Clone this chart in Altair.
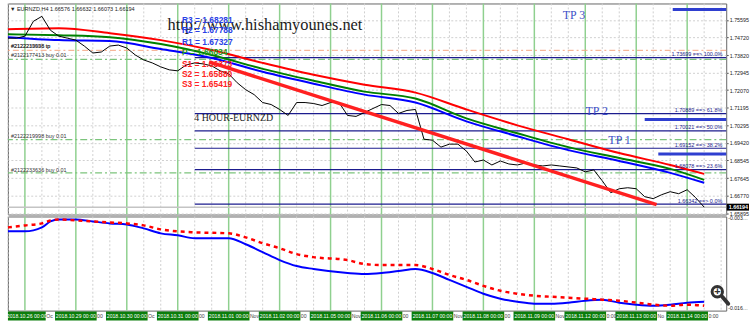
import altair as alt
import pandas as pd

# ---------------- data ----------------
close_bars = list(range(-2, 81))
close_prices = [
    1.74677, 1.74677, 1.74777, 1.75522, 1.75771, 1.75075, 1.74777, 1.74677, 1.74578, 1.74279,
    1.73931, 1.73981, 1.74279, 1.74329, 1.74180, 1.73832, 1.73583, 1.73434, 1.73235, 1.73086,
    1.73036, 1.73334, 1.73434, 1.73384, 1.73285, 1.73036, 1.72887, 1.72439, 1.72091, 1.71842,
    1.71445, 1.71345, 1.71097, 1.70798, 1.71445, 1.71445, 1.71395, 1.71295, 1.71445, 1.71445,
    1.70798, 1.70748, 1.70947, 1.71146, 1.71345, 1.71295, 1.70898, 1.71047, 1.71097, 1.69605,
    1.69555, 1.69207, 1.69356, 1.69356, 1.69008, 1.68461, 1.68560, 1.68312, 1.68511, 1.68361,
    1.68312, 1.68411, 1.68312, 1.68262, 1.68312, 1.68262, 1.68212, 1.68162, 1.67964, 1.68063,
    1.67516, 1.66919, 1.67118, 1.67168, 1.67118, 1.66720, 1.66621, 1.66820, 1.66969, 1.66869,
    1.67068, 1.66671, 1.66194,
]

ma_bars = [-2, 4, 10, 16, 22, 28, 34, 40, 46, 52, 58, 64, 70, 76, 80]
ma_red = [1.75125, 1.75174, 1.74926, 1.74578, 1.74080, 1.73434, 1.72837, 1.72340,
          1.71942, 1.71097, 1.70301, 1.69605, 1.68908, 1.68312, 1.67864]
ma_green = [1.74876, 1.74826, 1.74727, 1.74379, 1.73832, 1.73135, 1.72539, 1.71992,
            1.71644, 1.70649, 1.69903, 1.69207, 1.68660, 1.68113, 1.67566]
ma_blue = [1.74727, 1.74578, 1.74528, 1.74130, 1.73682, 1.72986, 1.72389, 1.71842,
           1.71445, 1.70500, 1.69754, 1.69058, 1.68511, 1.67914, 1.67416]

trend_bars = [21.7, 74.4]
trend_prices = [1.73484, 1.66322]

osc_blue_bars = [-2, 0, 2, 3, 4, 6, 8, 10, 12, 14, 16, 18, 20, 24, 26, 28, 30, 32, 34, 38,
                 40, 42, 44, 46, 48, 50, 52, 54, 56, 58, 60, 62, 64, 66, 68, 70, 72, 74, 76, 78, 80]
osc_blue = [-0.00568, -0.00568, -0.00510, -0.00423, -0.00394, -0.00394, -0.00423, -0.00452,
            -0.00467, -0.00525, -0.00597, -0.00626, -0.00669, -0.00669, -0.00756, -0.00871,
            -0.00987, -0.01074, -0.01117, -0.01175, -0.01189, -0.01175, -0.01146, -0.01117,
            -0.01175, -0.01276, -0.01377, -0.01478, -0.01550, -0.01594, -0.01623, -0.01623,
            -0.01608, -0.01579, -0.01565, -0.01608, -0.01637, -0.01652, -0.01637, -0.01608,
            -0.01594]
osc_red_bars = [-2, 0, 2, 3, 4, 6, 8, 10, 12, 14, 16, 18, 20, 24, 26, 28, 30, 32, 34, 38,
                40, 42, 46, 48, 50, 52, 54, 56, 58, 60, 62, 64, 66, 68, 70, 72, 74, 76, 78, 80]
osc_red = [-0.00510, -0.00481, -0.00452, -0.00409, -0.00394, -0.00409, -0.00423, -0.00438,
           -0.00452, -0.00481, -0.00539, -0.00568, -0.00582, -0.00597, -0.00655, -0.00741,
           -0.00814, -0.00900, -0.00944, -0.00987, -0.01045, -0.01059, -0.01059, -0.01117,
           -0.01204, -0.01276, -0.01363, -0.01435, -0.01478, -0.01507, -0.01522, -0.01536,
           -0.01550, -0.01565, -0.01579, -0.01608, -0.01637, -0.01652, -0.01637, -0.01652]

price_ticks = [1.75595, 1.74720, 1.73820, 1.72945, 1.72070, 1.71195, 1.70295, 1.69420,
               1.68545, 1.67645, 1.66770, 1.65895]
osc_ticks = [-0.003800, -0.016805]

day_bars = [0, 6, 12, 18, 24, 30, 36, 42, 48, 54, 60, 66, 72, 78]
day_labels = ["2018.10.26 00:00", "2018.10.29 00:00", "2018.10.30 00:00", "2018.10.31 00:00",
              "2018.11.01 00:00", "2018.11.02 00:00", "2018.11.05 00:00", "2018.11.06 00:00",
              "2018.11.07 00:00", "2018.11.08 00:00", "2018.11.09 00:00", "2018.11.12 00:00",
              "2018.11.13 00:00", "2018.11.14 00:00"]
gap_labels = ["Oc", "00", "Oc", "00", "Nov", "00", "Nov", "00", "Nov", "00", "Nov", "0:00", "No", "0:00"]
grid_bars = [b for b in range(-2, 83, 2) if b not in day_bars]

fib_levels = [1.73699, 1.70889, 1.70021, 1.69152, 1.68078, 1.66342]
fib_pcts = ["100.0%", "61.8%", "50.0%", "38.2%", "23.6%", "0.0%"]
fib_start_bar = 20

order_levels = [1.73608, 1.69580, 1.67914]
tp_order_level = 1.74066
order_label_texts = ["#2122219998 tp", "#2122233636 tp", "#2122177413 buy 0.01",
                     "#2122219998 buy 0.01", "#2122233636 buy 0.01"]
order_label_prices = [1.74279, 1.74279, 1.73832, 1.69754, 1.68063]

tp_names = ["TP   3", "TP   2", "TP   1"]
tp_levels = [1.76118, 1.70599, 1.68858]
tp_line_start = [76.3, 73.0, 74.6]
tp_label_bars = [63.35, 66.04, 68.72]
tp_label_prices = [1.75821, 1.70997, 1.69555]

pivot_names = ["R3", "R2", "R1", "P", "S1", "S2", "S3"]
pivot_values = [1.68281, 1.67788, 1.67327, 1.66834, 1.66373, 1.65880, 1.65419]
pivot_label_prices = [1.75572, 1.75075, 1.74478, 1.73981, 1.73384, 1.72887, 1.72389]
pivot_colors = ["#2a3fe6", "#2a3fe6", "#2a3fe6", "#1f9a1f", "#ff2222", "#ff2222", "#ff2222"]

header_text = "\u25bc EURNZD,H4  1.66576 1.66632 1.66073 1.66194"
site_text = "http://www.hishamyounes.net"
title_text = "4 HOUR-EURNZD"

# ---------------- scales ----------------
X_DOM = [-2, 82.6]
TOP_DOM = [1.65825, 1.76417]
BOT_DOM = [-0.01724, -0.00351]
SANS = "Liberation Sans"
SERIF = "Liberation Serif"
W = 725


def xenc(field="b"):
    return alt.X(f"{field}:Q", scale=alt.Scale(domain=X_DOM, nice=False, zero=False), axis=None)


def ytop():
    return alt.Y("p:Q", scale=alt.Scale(domain=TOP_DOM, nice=False, zero=False),
                 axis=alt.Axis(orient="right", values=price_ticks, format=".5f", grid=True,
                               gridDash=[2, 2], gridColor="#cfcfcf", labelFontSize=5.4,
                               labelColor="#222", labelFont=SANS, tickSize=2, tickColor="#555",
                               labelPadding=1, domain=False, title=None, labelOverlap=False))


def ybot():
    return alt.Y("p:Q", scale=alt.Scale(domain=BOT_DOM, nice=False, zero=False), axis=None)


def vgrid():
    return [
        alt.Chart(pd.DataFrame({"b": grid_bars})).mark_rule(color="#cfcfcf", strokeDash=[2, 2],
                                                            strokeWidth=1).encode(x=xenc()),
        alt.Chart(pd.DataFrame({"b": day_bars})).mark_rule(color="#8fd08f", strokeWidth=1.5)
        .encode(x=xenc()),
    ]


# ---------------- top panel ----------------
top = vgrid()
top.append(alt.Chart(pd.DataFrame({"p": [close_prices[-1]]})).mark_rule(color="#c4c4c4", strokeWidth=1.5)
           .encode(y=ytop()))
top.append(alt.Chart(pd.DataFrame({"p": [tp_order_level]})).mark_rule(
    color="#f4a582", strokeWidth=1, strokeDash=[6, 3, 2, 3]).encode(y=ytop()))
top.append(alt.Chart(pd.DataFrame({"p": order_levels})).mark_rule(
    color="#7cc47c", strokeWidth=1.3, strokeDash=[7, 3, 2, 3]).encode(y=ytop()))
fib_df = pd.DataFrame({"b": [fib_start_bar] * len(fib_levels), "b2": [X_DOM[1]] * len(fib_levels),
                       "p": fib_levels,
                       "t": [f"{v:.5f} ==> {q}" for v, q in zip(fib_levels, fib_pcts)]})
top.append(alt.Chart(fib_df).mark_rule(color="#1c1c8e", strokeWidth=1.2)
           .encode(x=xenc(), x2="b2", y=ytop()))
tp_df = pd.DataFrame({"b": tp_line_start, "b2": [X_DOM[1]] * 3, "p": tp_levels})
top.append(alt.Chart(tp_df).mark_rule(color="#2f3fd0", strokeWidth=3)
           .encode(x=xenc(), x2="b2", y=ytop()))
for vals, col in [(ma_red, "#ff0000"), (ma_green, "#008000"), (ma_blue, "#0000ff")]:
    top.append(alt.Chart(pd.DataFrame({"b": ma_bars, "p": vals})).mark_line(
        color=col, strokeWidth=2, interpolate="monotone").encode(x=xenc(), y=ytop()))
top.append(alt.Chart(pd.DataFrame({"b": close_bars, "p": close_prices})).mark_line(
    color="#000000", strokeWidth=1).encode(x=xenc(), y=ytop()))
top.append(alt.Chart(pd.DataFrame({"b": trend_bars, "p": trend_prices})).mark_line(
    color="#ff2020", strokeWidth=3.5).encode(x=xenc(), y=ytop()))

# texts
top.append(alt.Chart(fib_df).mark_text(align="right", baseline="bottom", fontSize=5.5, font=SANS,
                                       color="#1c1c8e", dy=-0.5)
           .encode(x=alt.value(721), y=ytop(), text="t:N"))
ord_df = pd.DataFrame({"b": [-1.65] * len(order_label_texts), "p": order_label_prices,
                       "t": order_label_texts})
top.append(alt.Chart(ord_df).mark_text(align="left", baseline="middle", fontSize=5.5, font=SANS,
                                       color="#333333")
           .encode(x=xenc(), y=ytop(), text="t:N"))
top.append(alt.Chart(pd.DataFrame({"t": [header_text]})).mark_text(
    align="left", baseline="middle", fontSize=5.6, font=SANS, color="#222222")
    .encode(x=alt.value(2), y=alt.value(6), text="t:N"))
top.append(alt.Chart(pd.DataFrame({"b": [16.8], "p": [1.75075], "t": [site_text]})).mark_text(
    align="left", baseline="alphabetic", fontSize=16.5, font=SERIF, color="#1a1a1a")
    .encode(x=xenc(), y=ytop(), text="t:N"))
piv_df = pd.DataFrame({"b": [18.5] * 7, "p": pivot_label_prices,
                       "t": [f"{n} = {v:.5f}" for n, v in zip(pivot_names, pivot_values)],
                       "c": pivot_colors})
top.append(alt.Chart(piv_df).mark_text(align="left", baseline="middle", fontSize=8.5, font=SANS,
                                       fontWeight="bold")
           .encode(x=xenc(), y=ytop(), text="t:N", color=alt.Color("c:N", scale=None)))
top.append(alt.Chart(pd.DataFrame({"b": [19.95], "p": [1.70674], "t": [title_text]})).mark_text(
    align="left", baseline="middle", fontSize=10, font=SERIF, color="#222222")
    .encode(x=xenc(), y=ytop(), text="t:N"))
tpl_df = pd.DataFrame({"b": tp_label_bars, "p": tp_label_prices, "t": tp_names})
top.append(alt.Chart(tpl_df).mark_text(align="left", baseline="middle", fontSize=12, font=SERIF,
                                       color="#3d4fc8")
           .encode(x=xenc(), y=ytop(), text="t:N"))
# current price box on the axis
cur_df = pd.DataFrame({"p": [close_prices[-1]], "t": [f"{close_prices[-1]:.5f}"]})
top.append(alt.Chart(cur_df).mark_rect(color="#000000", height=7)
           .encode(x=alt.value(W + 0.5), x2=alt.value(W + 23), y=ytop()))
top.append(alt.Chart(cur_df).mark_text(align="left", baseline="middle", fontSize=5.4, font=SANS,
                                       color="#ffffff", fontWeight="bold")
           .encode(x=alt.value(W + 2.5), y=ytop(), text="t:N"))

top_chart = alt.layer(*top).properties(width=W, height=213)

# ---------------- bottom panel ----------------
bot = vgrid()
bot.append(alt.Chart(pd.DataFrame({"b": osc_blue_bars, "p": osc_blue})).mark_line(
    color="#0000ff", strokeWidth=2, interpolate="monotone").encode(x=xenc(), y=ybot()))
bot.append(alt.Chart(pd.DataFrame({"b": osc_red_bars, "p": osc_red})).mark_line(
    color="#ff0000", strokeWidth=2.5, strokeDash=[4, 4], interpolate="monotone")
    .encode(x=xenc(), y=ybot()))
box_df = pd.DataFrame({"b": [max(d - 2.45, X_DOM[0]) for d in day_bars],
                       "b2": [d + 2.45 for d in day_bars], "t": day_labels})
box_df["bm"] = (box_df["b"] + box_df["b2"]) / 2
bot.append(alt.Chart(box_df).mark_rect(color="#0b7d0b")
           .encode(x=xenc(), x2="b2", y=alt.value(96), y2=alt.value(105)))
bot.append(alt.Chart(box_df).mark_text(align="center", baseline="middle", fontSize=5.2, font=SANS,
                                       color="#ffffff")
           .encode(x=xenc("bm"), y=alt.value(100.5), text="t:N"))
gap_df = pd.DataFrame({"b": [d + 2.5 for d in day_bars], "t": gap_labels})
bot.append(alt.Chart(gap_df).mark_text(align="left", baseline="middle", fontSize=5.2, font=SANS,
                                       color="#444444")
           .encode(x=xenc(), y=alt.value(100.5), text="t:N"))
osc_df = pd.DataFrame({"p": osc_ticks, "t": [f"{v:.6f}" for v in osc_ticks]})
bot.append(alt.Chart(osc_df).mark_text(align="left", baseline="middle", fontSize=5.2, font=SANS,
                                       color="#222222", limit=22, ellipsis="")
           .encode(x=alt.value(W + 2), y=ybot(), text="t:N"))
# magnifier icon
icon_df = pd.DataFrame({"t": ["+"]})
bot.append(alt.Chart(icon_df).mark_rule(color="#333333", strokeWidth=4, strokeCap="round")
           .encode(x=alt.value(721), x2=alt.value(727), y=alt.value(81), y2=alt.value(88)))
bot.append(alt.Chart(icon_df).mark_point(shape="circle", size=110, filled=False, stroke="#333333",
                                         strokeWidth=3, fill="#ffffff", fillOpacity=1)
           .encode(x=alt.value(716), y=alt.value(76)))
bot.append(alt.Chart(icon_df).mark_text(fontSize=11, fontWeight="bold", font=SANS, color="#333333",
                                        baseline="middle", align="center")
           .encode(x=alt.value(716), y=alt.value(76.5), text="t:N"))

bot_chart = alt.layer(*bot).properties(width=W, height=95)

chart = (alt.vconcat(top_chart, bot_chart, spacing=2, bounds="flush")
         .properties(padding={"left": 2, "right": 0, "top": 0, "bottom": 0}, background="white")
         .configure_view(stroke="#666666", strokeWidth=1))

chart.save("out.html", embed_options={"renderer": "svg", "actions": False})
